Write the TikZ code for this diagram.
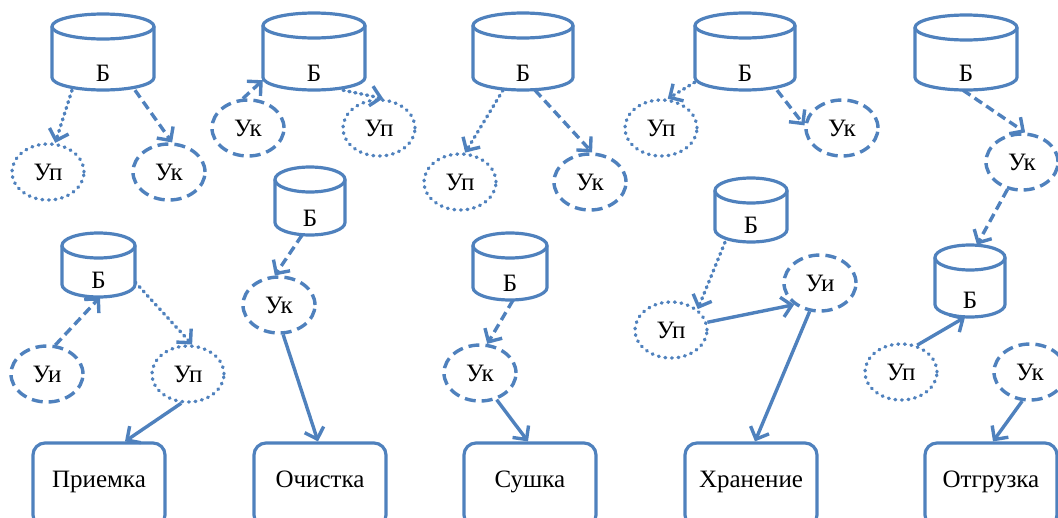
\documentclass[tikz,border=0pt]{standalone}
\usepackage{fontspec}
\setmainfont{Liberation Serif}
\usetikzlibrary{arrows.meta,shapes.geometric}

\definecolor{flowblue}{RGB}{79,129,189}

\tikzset{
  shapeline/.style={draw=flowblue, line width=3.2pt},
  drumbox/.style={rectangle, inner sep=0pt, draw=none},
  lbl/.style={inner sep=0pt, font=\fontsize{25}{29}\selectfont},
  unit/.style={ellipse, inner sep=0pt, minimum width=72pt, minimum height=56pt,
    draw=flowblue, line width=3.4pt, font=\fontsize{25}{29}\selectfont},
  dotunit/.style={unit, dash pattern=on 0.8pt off 5.8pt, line cap=round},
  dashunit/.style={unit, dash pattern=on 11pt off 6pt},
  stage/.style={rectangle, rounded corners=12pt, draw=flowblue, line width=3.2pt,
    minimum width=132pt, text height=34pt, text depth=30pt, inner ysep=10pt,
    anchor=base, font=\fontsize{25}{29}\selectfont},
  flow/.style={draw=flowblue, line width=3.4pt,
    -{Straight Barb[length=10pt,width=20pt,line width=3.4pt]}},
  dotflow/.style={flow, dash pattern=on 1.2pt off 4.8pt, line cap=round},
  dashflow/.style={flow, dash pattern=on 9pt off 5pt},
}

% Storage drum: name, left x, right x, top y, bottom y (y measured downwards)
\newcommand\drum[5]{%
  \pgfmathsetmacro\cylCx{(#2+#3)/2}%
  \pgfmathsetmacro\cylRx{(#3-#2)/2}%
  \pgfmathsetmacro\cylCy{-(#4+#5)/2}%
  \pgfmathsetmacro\cylH{#5-#4}%
  \pgfmathsetmacro\cylW{#3-#2}%
  \node[drumbox, minimum width=\cylW pt, minimum height=\cylH pt] (#1) at (\cylCx,\cylCy) {};
  \draw[shapeline] (#2,-#4-12.5) -- (#2,-#5+12.5)
    arc[start angle=180, end angle=360, x radius=\cylRx pt, y radius=12.5pt]
    -- (#3,-#4-12.5);
  \draw[shapeline] (\cylCx,-#4-12.5) ellipse[x radius=\cylRx pt, y radius=12.5pt];
  \node[lbl] (#1-t) at (\cylCx,-#5+17) {Б};
}

\begin{document}
\begin{tikzpicture}[x=1pt,y=1pt]
\useasboundingbox (0,0) rectangle (1058,-517);
\clip (0,0) rectangle (1058,-517);

% storage drums
\drum{c1}{52}{154}{14}{90}
\drum{c2}{62}{135}{233}{297}
\drum{c3}{263}{365}{13}{90}
\drum{c4}{275}{345}{167}{235}
\drum{c5}{473}{573}{13}{90}
\drum{c6}{473}{547}{233}{300}
\drum{c7}{695}{795}{13}{90}
\drum{c8}{715}{787}{178}{242}
\drum{c9}{915}{1017}{15}{90}
\drum{c10}{935}{1005}{245}{317}

% control units
\node[dotunit]  (e1p) at (48,-172) {Уп};
\node[dashunit] (e1k) at (169,-172) {Ук};
\node[dashunit] (e2i) at (47,-374) {Уи};
\node[dotunit]  (e2p) at (188,-374) {Уп};
\node[dashunit] (e3k) at (248,-128) {Ук};
\node[dotunit]  (e3p) at (379,-128) {Уп};
\node[dashunit] (e4k) at (279,-305) {Ук};
\node[dotunit]  (e5p) at (460,-182) {Уп};
\node[dashunit] (e5k) at (590,-182) {Ук};
\node[dashunit] (e6k) at (480,-373) {Ук};
\node[dotunit]  (e7p) at (661,-128) {Уп};
\node[dashunit] (e7k) at (842,-128) {Ук};
\node[dotunit]  (e8p) at (671,-330) {Уп};
\node[dashunit] (e8i) at (820,-283) {Уи};
\node[dashunit] (e9k) at (1022,-162) {Ук};
\node[dotunit]  (e10p) at (901,-372) {Уп};
\node[dashunit] (e10k) at (1030,-372) {Ук};

% process stages
\node[stage] (box1) at (99,-487) {Приемка};
\node[stage] (box2) at (320,-487) {Очистка};
\node[stage] (box3) at (530,-487) {Сушка};
\node[stage] (box4) at (751,-487) {Хранение};
\node[stage] (box5) at (991,-487) {Отгрузка};

% connections
\draw[dotflow]  ([xshift=-31pt]c1.south) -- (e1p.76);
\draw[dashflow] ([xshift=32pt]c1.south) -- (e1k.84);

\draw[dashflow] (e2i.74) -- ([xshift=1.5pt]c2.south);
\draw[dotflow]  ([yshift=15pt]c2.south east) -- (e2p.82);
\draw[flow]     (e2p.257) -- ([xshift=26pt]box1.north);

\draw[dashflow] (e3k.100) -- ([yshift=10pt]c3.south west);
\draw[dotflow]  ([xshift=29pt]c3.south) -- (e3p.82);

\draw[dashflow] ([xshift=-8pt]c4.south) -- (e4k.98);
\draw[flow]     (e4k.278) -- ([xshift=-2pt]box2.north);

\draw[dotflow]  ([xshift=-20pt]c5.south) -- (e5p.80);
\draw[dashflow] ([xshift=12pt]c5.south) -- (e5k.86);

\draw[dashflow] ([xshift=3pt]c6.south) -- (e6k.76);
\draw[flow]     (e6k.302) -- ([xshift=-2pt]box3.north);

\draw[dotflow]  ([yshift=8pt]c7.south west) -- (e7p.77);
\draw[dashflow] ([xshift=32pt]c7.south) -- (e7k.176);

\draw[dotflow]  ([xshift=-26pt]c8.south) -- (e8p.38);
\draw[flow]     (e8p.12) -- (e8i.220);
\draw[flow]     (e8i.250) -- ([xshift=4pt]box4.north);

\draw[dashflow] ([xshift=-3pt]c9.south) -- (e9k.84);
\draw[dashflow] (e9k.242) -- ([xshift=7pt]c10.north);
\draw[flow]     (e10p.59) -- ([xshift=-5pt]c10.south);
\draw[flow]     (e10k.255) -- ([xshift=2pt]box5.north);
\end{tikzpicture}
\end{document}
